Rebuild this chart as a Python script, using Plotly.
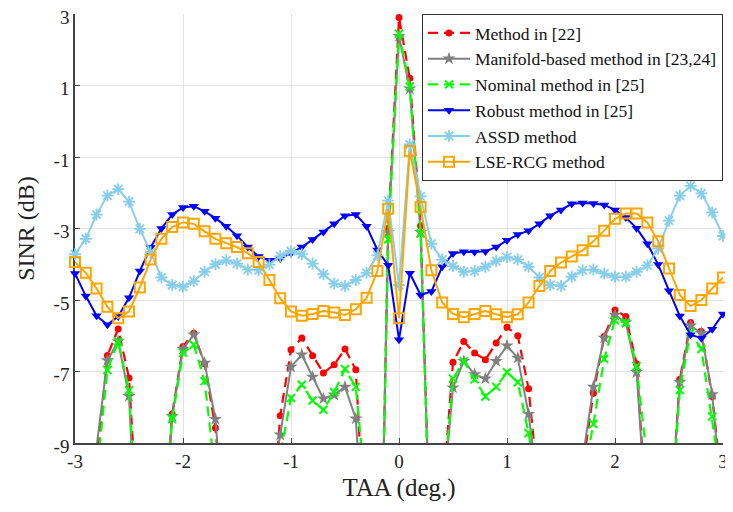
import plotly.graph_objects as go

# TAA grid (deg.)
taa = [round(-3 + 0.1 * i, 1) for i in range(61)]

method22 = [-14, -12, -9.7, -6.55, -5.81, -7.18, -12.2, -18, -12.5, -8.19,
            -6.30, -5.93, -6.78, -8.58, -12, -18, -22, -18, -12.4, -8.24,
            -6.39, -6.06, -6.56, -7.04, -6.81, -6.37, -6.95, -12, -18, -3.0,
            2.9, 1.2, -2.92, -13, -10.65, -6.74, -6.16, -6.48, -6.67, -6.2,
            -5.76, -6.0, -7.48, -10.5, -16, -22, -15, -9.7, -7.61, -6.02,
            -5.28, -5.46, -6.78, -10.8, -16, -11.7, -7.22, -5.63, -5.88, -7.7,
            -10.46]

manifold = [-14, -12, -9.1, -6.69, -6.16, -7.69, -13.8, -18, -12.5, -8.25,
            -6.37, -5.97, -6.76, -8.33, -12, -18, -22, -18, -10.8, -8.77,
            -6.87, -6.53, -7.15, -7.76, -7.65, -7.43, -8.32, -13.9, -18, -3.1,
            2.38, 0.91, -3.1, -13, -10.85, -7.45, -6.71, -7.08, -7.2, -6.71,
            -6.28, -6.62, -8.19, -10.6, -16, -22, -15, -9.45, -7.43, -6.06,
            -5.42, -5.63, -7.02, -11.1, -16, -11.7, -7.3, -5.72, -5.93, -7.64,
            -11]

nominal = [-14, -12, -9.9, -6.96, -6.16, -7.52, -12.95, -18, -12, -8.33,
           -6.48, -6.25, -7.27, -9.88, -14, -18, -22, -18, -10.95, -9.35,
           -7.74, -7.37, -7.81, -8.07, -7.58, -6.93, -7.43, -10.6, -18, -3.3,
           2.45, 0.97, -3.14, -13, -10.7, -7.2, -6.71, -7.22, -7.7, -7.43,
           -7.02, -7.3, -8.72, -10.55, -16, -22, -15, -10.05, -8.47, -6.65,
           -5.57, -5.63, -6.85, -9.54, -16, -12, -7.52, -5.91, -6.37, -8.26,
           -10.4]

robust = [-4.26, -4.89, -5.44, -5.69, -5.46, -4.94, -4.19, -3.53, -3.0, -2.61,
          -2.41, -2.38, -2.52, -2.71, -2.94, -3.2, -3.52, -3.78, -3.89, -3.84,
          -3.69, -3.52, -3.31, -3.1, -2.87, -2.64, -2.61, -2.94, -3.6, -4.03,
          -6.11, -4.25, -4.86, -4.76, -4.07, -3.7, -3.65, -3.66, -3.64, -3.52,
          -3.33, -3.17, -3.06, -2.87, -2.64, -2.48, -2.31, -2.29, -2.3, -2.34,
          -2.48, -2.69, -2.99, -3.43, -4.01, -4.74, -5.45, -5.97, -6.07, -5.82,
          -5.39]

assd = [-3.72, -3.29, -2.61, -2.08, -1.9, -2.25, -3.01, -3.66, -4.37, -4.58,
        -4.63, -4.47, -4.21, -4.0, -3.89, -3.98, -4.15, -4.17, -4.01, -3.77,
        -3.63, -3.72, -3.98, -4.28, -4.54, -4.61, -4.44, -4.24, -3.75, -2.22,
        -4.58, -0.65, -2.1, -3.43, -3.87, -4.05, -4.21, -4.19, -4.07, -3.91,
        -3.8, -3.87, -4.07, -4.37, -4.58, -4.61, -4.35, -4.17, -4.15, -4.26,
        -4.35, -4.35, -4.21, -4.03, -3.56, -2.78, -2.08, -1.81, -2.02, -2.55,
        -3.21]

lse_rcg = [-3.94, -4.24, -4.68, -5.19, -5.51, -5.32, -4.65, -3.87, -3.29, -2.96,
           -2.83, -2.87, -3.08, -3.29, -3.41, -3.52, -3.69, -3.94, -4.44, -4.95,
           -5.32, -5.44, -5.39, -5.31, -5.35, -5.42, -5.26, -4.94, -4.19, -2.45,
           -5.51, -0.83, -2.4, -4.17, -5.07, -5.39, -5.48, -5.39, -5.31, -5.4,
           -5.48, -5.4, -5.07, -4.61, -4.19, -3.95, -3.78, -3.61, -3.36, -3.06,
           -2.73, -2.58, -2.58, -2.83, -3.36, -4.12, -4.86, -5.17, -5.0, -4.68,
           -4.37]

x_ticks = [-3, -2, -1, 0, 1, 2, 3]
x_tick_labels = ["-3", "-2", "-1", "0", "1", "2", "3"]
y_ticks = [-9, -7, -5, -3, -1, 1, 3]
y_tick_labels = ["-9", "-7", "-5", "-3", "-1", "1", "3"]

FONT = "Liberation Serif, Times New Roman, serif"

fig = go.Figure()

fig.add_trace(go.Scatter(
    x=taa, y=method22, name="Method in [22]", mode="lines+markers",
    line=dict(color="#ff0000", width=2.2, dash="10px,6px"),
    marker=dict(symbol="circle", size=7, color="#ff0000"),
))
fig.add_trace(go.Scatter(
    x=taa, y=manifold, name="Manifold-based method in [23,24]", mode="lines+markers",
    line=dict(color="#808080", width=2),
    marker=dict(symbol="star", size=10, color="#808080"),
))
fig.add_trace(go.Scatter(
    x=taa, y=nominal, name="Nominal method in [25]", mode="lines+markers",
    line=dict(color="#00ff00", width=2.2, dash="10px,6px"),
    marker=dict(symbol="x-thin-open", size=8, color="#00ff00",
                line=dict(color="#00ff00", width=2)),
))
fig.add_trace(go.Scatter(
    x=taa, y=robust, name="Robust method in [25]", mode="lines+markers",
    line=dict(color="#0000ff", width=2),
    marker=dict(symbol="triangle-down", size=9, color="#0000ff"),
    cliponaxis=False,
))
fig.add_trace(go.Scatter(
    x=taa, y=assd, name="ASSD method", mode="lines+markers",
    line=dict(color="#87ceeb", width=2),
    marker=dict(symbol="asterisk-open", size=10, color="#87ceeb",
                line=dict(color="#87ceeb", width=1.8)),
    cliponaxis=False,
))
fig.add_trace(go.Scatter(
    x=taa, y=lse_rcg, name="LSE-RCG method", mode="lines+markers",
    line=dict(color="#ffa500", width=2),
    marker=dict(symbol="square-open", size=10, color="#ffa500",
                line=dict(color="#ffa500", width=2)),
    cliponaxis=False,
))

# The page body adds an 8px offset, so the figure is sized/margined to land the
# plot area at the reference position (left 75, right 723, top 14, bottom 443).
fig.update_layout(
    width=725, height=504,
    margin=dict(l=67, r=10, t=6, b=69),
    paper_bgcolor="white", plot_bgcolor="white",
    font=dict(family=FONT, color="#222222"),
    showlegend=True,
    legend=dict(
        x=1, y=1, xanchor="right", yanchor="top",
        bgcolor="white", bordercolor="#333333", borderwidth=1,
        font=dict(family=FONT, size=17.5, color="#111111"),
        itemwidth=42,
        tracegroupgap=0,
    ),
    xaxis=dict(
        range=[-3, 3], tickvals=x_ticks, ticktext=x_tick_labels,
        automargin=False, ticklabeloverflow="allow",
        showgrid=True, gridcolor="#e3e3e3", gridwidth=1,
        zeroline=False, showline=True, linecolor="#444444", linewidth=1.5,
        ticks="inside", ticklen=5, tickcolor="#444444",
        tickfont=dict(family=FONT, size=19, color="#222222"),
        title=dict(text="TAA (deg.)", font=dict(family=FONT, size=25, color="#222222"), standoff=8),
        layer="below traces",
    ),
    yaxis=dict(
        range=[-9, 3], tickvals=y_ticks, ticktext=y_tick_labels,
        automargin=False, ticklabeloverflow="allow", ticklabelshift=3,
        showgrid=True, gridcolor="#e3e3e3", gridwidth=1,
        zeroline=False, showline=True, linecolor="#444444", linewidth=1.5,
        ticks="inside", ticklen=5, tickcolor="#444444",
        tickfont=dict(family=FONT, size=19, color="#222222"),
        title=dict(text="SINR (dB)", font=dict(family=FONT, size=24, color="#222222"), standoff=12),
        layer="below traces",
    ),
)

fig.write_html("out.html")
